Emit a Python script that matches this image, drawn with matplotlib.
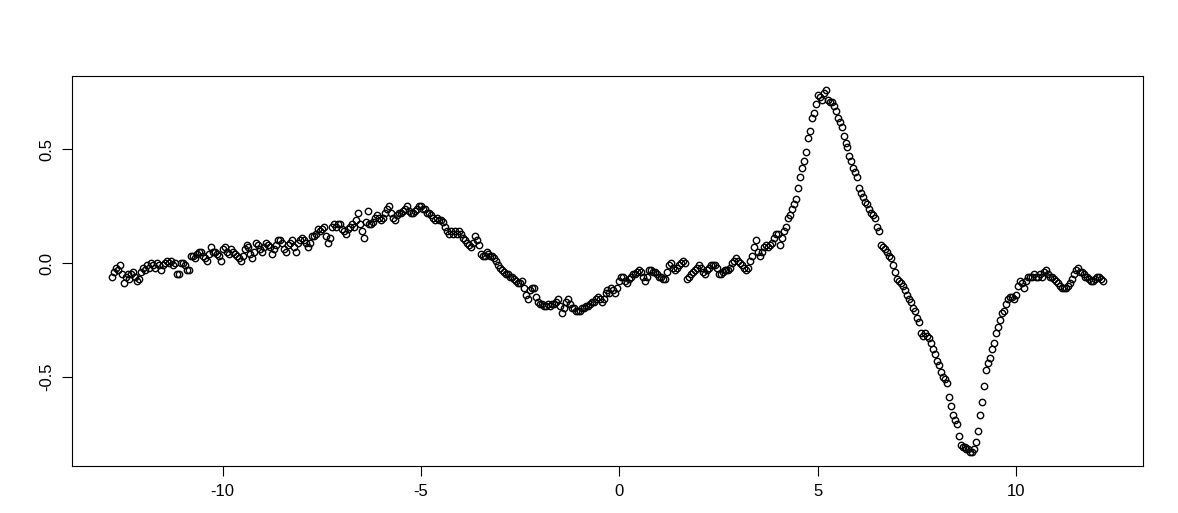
import numpy as np
import matplotlib
matplotlib.use("Agg")
import matplotlib.pyplot as plt

step = 0.05

start_a = -12.80
y_a = [-0.06, -0.04, -0.02, -0.03, -0.01, -0.05, -0.09, -0.06, -0.05, -0.07,
       -0.05, -0.04, -0.06, -0.08, -0.07, -0.04, -0.02, -0.03, -0.01, -0.02,
       0.00, -0.01, -0.02, 0.00, -0.01, -0.03, -0.01, 0.00, 0.01, 0.00,
       0.01, -0.01, 0.00, -0.05, -0.05, 0.00, 0.00, -0.01, -0.03, -0.03,
       0.03, 0.03, 0.02, 0.04, 0.05, 0.05, 0.03, 0.02, 0.01, 0.04,
       0.07, 0.05, 0.05, 0.04, 0.03, 0.01]

start_b = -10.00
y_b = [0.06, 0.07, 0.05, 0.04, 0.06, 0.05, 0.04, 0.03, 0.02, 0.01,
       0.03, 0.06, 0.08, 0.07, 0.04, 0.02, 0.05, 0.09, 0.08, 0.06,
       0.05, 0.07, 0.09, 0.08, 0.07, 0.04, 0.06, 0.08, 0.10, 0.10,
       0.09, 0.06, 0.05, 0.08, 0.09, 0.10, 0.07, 0.05, 0.09, 0.10,
       0.11, 0.10, 0.09, 0.07, 0.09, 0.12, 0.12, 0.13, 0.15, 0.14,
       0.15, 0.16, 0.12, 0.09, 0.11, 0.16, 0.17, 0.16, 0.17, 0.17,
       0.15, 0.14, 0.13, 0.15, 0.16, 0.17, 0.16, 0.19, 0.22, 0.17,
       0.14, 0.11, 0.18, 0.23, 0.17, 0.17, 0.18, 0.20, 0.21, 0.20,
       0.19, 0.20, 0.22, 0.24, 0.25, 0.22, 0.20, 0.19, 0.21, 0.22,
       0.22, 0.23, 0.24, 0.25, 0.23, 0.22, 0.22, 0.23, 0.24, 0.25]

start_c = -5.00
y_c = [0.25, 0.24, 0.24, 0.22, 0.22, 0.21, 0.20, 0.19, 0.20, 0.19,
       0.19, 0.18, 0.16, 0.14, 0.13, 0.14, 0.13, 0.14, 0.13, 0.14,
       0.13, 0.11, 0.10, 0.09, 0.08, 0.07, 0.09, 0.12, 0.10, 0.08,
       0.04, 0.03, 0.03, 0.05, 0.04, 0.03, 0.03, 0.02, 0.01, -0.01,
       -0.02, -0.03, -0.04, -0.05, -0.05, -0.06, -0.06, -0.07, -0.08, -0.09,
       -0.09, -0.08, -0.11, -0.14, -0.16, -0.12, -0.11, -0.11, -0.15, -0.17,
       -0.18, -0.18, -0.19, -0.19, -0.18, -0.19, -0.18, -0.18, -0.17, -0.16,
       -0.19, -0.22, -0.20, -0.17, -0.16, -0.18, -0.20, -0.20, -0.21, -0.21,
       -0.21, -0.20, -0.20, -0.19, -0.19, -0.18, -0.17, -0.17, -0.16, -0.15,
       -0.16, -0.17, -0.16, -0.13, -0.12, -0.13, -0.11, -0.12, -0.13, -0.11]

start_d = 0.00
y_d = [-0.08, -0.06, -0.06, -0.08, -0.09, -0.07, -0.06, -0.05, -0.05, -0.04,
       -0.03, -0.04, -0.06, -0.08, -0.06, -0.03, -0.03, -0.04, -0.04, -0.05,
       -0.06, -0.06, -0.07, -0.07, -0.04, -0.01, 0.00, -0.02, -0.03, -0.02,
       -0.01, 0.00, 0.01, 0.00, -0.07, -0.06, -0.05, -0.04, -0.03, -0.02,
       -0.01, -0.02, -0.04, -0.05, -0.03, -0.02, -0.01, -0.01, -0.01, -0.02,
       -0.05, -0.05, -0.04, -0.03, -0.03, -0.03, -0.02, 0.00, 0.01, 0.02,
       0.01, 0.00, -0.01, -0.02, -0.03, -0.02, 0.01, 0.03, 0.07, 0.10,
       0.05, 0.03, 0.05, 0.07, 0.08, 0.07, 0.08, 0.09, 0.11, 0.13,
       0.13, 0.08, 0.11, 0.14, 0.16, 0.20, 0.21, 0.24, 0.26, 0.28,
       0.33, 0.38, 0.42, 0.45, 0.49, 0.55, 0.58, 0.64, 0.66, 0.70]

start_e = 5.00
y_e = [0.74, 0.73, 0.72, 0.75, 0.76, 0.72, 0.71, 0.71, 0.69, 0.67,
       0.64, 0.62, 0.60, 0.56, 0.53, 0.51, 0.47, 0.45, 0.42, 0.40,
       0.38, 0.33, 0.31, 0.29, 0.27, 0.26, 0.24, 0.22, 0.21, 0.20,
       0.16, 0.14, 0.08, 0.07, 0.06, 0.05, 0.03, 0.02, -0.01, -0.04,
       -0.07, -0.08, -0.09, -0.10, -0.12, -0.14, -0.16, -0.17, -0.20, -0.21,
       -0.24, -0.26, -0.31, -0.32, -0.31, -0.32, -0.33, -0.35, -0.38, -0.40,
       -0.43, -0.45, -0.48, -0.50, -0.51, -0.53, -0.59, -0.63, -0.67, -0.69,
       -0.71, -0.76, -0.80, -0.81, -0.81, -0.82, -0.82, -0.83, -0.83, -0.82,
       -0.79, -0.74, -0.67, -0.61, -0.54, -0.47, -0.44, -0.42, -0.38, -0.35,
       -0.31, -0.28, -0.25, -0.22, -0.21, -0.18, -0.16, -0.15, -0.15, -0.16]

start_f = 10.00
y_f = [-0.14, -0.10, -0.08, -0.09, -0.11, -0.08, -0.06, -0.06, -0.06, -0.05,
       -0.06, -0.06, -0.05, -0.06, -0.04, -0.03, -0.05, -0.06, -0.06, -0.07,
       -0.08, -0.09, -0.10, -0.11, -0.11, -0.11, -0.10, -0.09, -0.07, -0.05,
       -0.03, -0.02, -0.04, -0.04, -0.05, -0.06, -0.06, -0.07, -0.08, -0.08,
       -0.07, -0.06, -0.06, -0.07, -0.08]

x_ticks = [-10, -5, 0, 5, 10]
y_ticks = [-0.5, 0.0, 0.5]

segments = [(start_a, y_a), (start_b, y_b), (start_c, y_c),
            (start_d, y_d), (start_e, y_e), (start_f, y_f)]
x = np.concatenate([s + step * np.arange(len(v)) for s, v in segments])
y = np.concatenate([np.array(v, dtype=float) for s, v in segments])

plt.rcParams['font.family'] = ['Liberation Sans', 'DejaVu Sans']

fig = plt.figure(figsize=(11.78, 5.13), dpi=100)
ax = fig.add_axes([0.0611, 0.0916, 0.9092, 0.7603])

ax.plot(x, y, linestyle='none', marker='o', markersize=4.6,
        markerfacecolor='none', markeredgecolor='black', markeredgewidth=1.0)

# R-style 4% padding
xr = x.max() - x.min()
yr = y.max() - y.min()
ax.set_xlim(x.min() - 0.04 * xr, x.max() + 0.04 * xr)
ax.set_ylim(y.min() - 0.04 * yr, y.max() + 0.04 * yr)

ax.set_xticks(x_ticks)
ax.set_xticklabels([str(t) for t in x_ticks])
ax.set_yticks(y_ticks)
ax.set_yticklabels([f"{t:.1f}" for t in y_ticks], rotation=90, va='center')
ax.tick_params(axis='both', length=7, width=0.8, labelsize=12, pad=6,
               color='black')

for sp in ax.spines.values():
    sp.set_linewidth(0.8)
    sp.set_color('black')

fig.savefig('out.png', dpi=100)
